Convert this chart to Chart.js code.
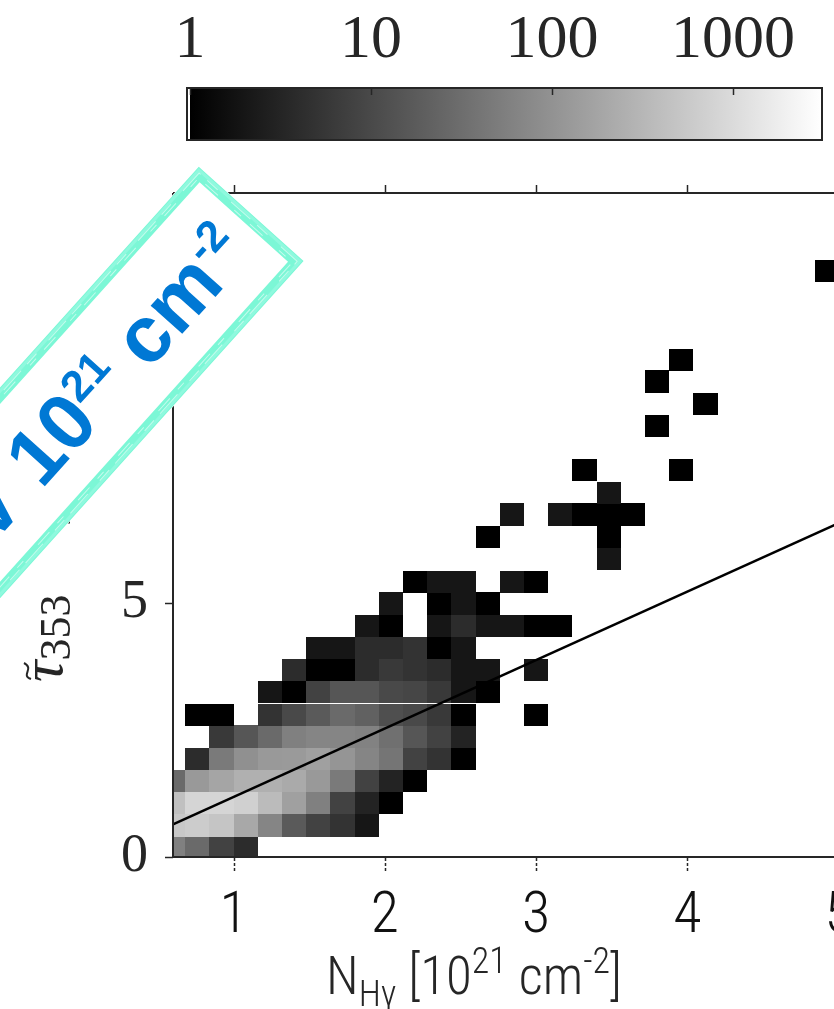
<!DOCTYPE html>
<html>
<head>
<meta charset="utf-8">
<script src="https://cdn.jsdelivr.net/npm/chart.js@4.4.1/dist/chart.umd.min.js"></script>
<style>
  html, body { margin: 0; padding: 0; background: #fff; width: 834px; height: 1009px; overflow: hidden; }
  #main { position: absolute; left: 0; top: 0; width: 900px; height: 1009px; }
  #cbar { position: absolute; left: 0; top: 0; width: 834px; height: 150px; }
</style>
</head>
<body>
<div id="main"><canvas id="hist"></canvas></div>
<div id="cbar"><canvas id="colorbar"></canvas></div>
<script>
// histogram bins (centres) and sizes
const nhCenters = [0.60, 0.76, 0.92, 1.08, 1.24, 1.40, 1.56, 1.72, 1.88, 2.04, 2.20, 2.36, 2.52, 2.68,
  2.84, 3.00, 3.16, 3.32, 3.48, 3.64, 3.80, 3.96, 4.12, 4.28, 4.44, 4.60, 4.76, 4.92];
const tauCenters = [0.18, 0.62, 1.06, 1.49, 1.93, 2.37, 2.80, 3.24, 3.68, 4.11, 4.55, 4.99, 5.42, 5.86,
  6.30, 6.74, 7.17, 7.61, 8.05, 8.48, 8.92, 9.36, 9.79, 10.23, 10.67, 11.10, 11.54];
const nhBinWidth = 0.16;
const tauBinHeight = 0.437;

// pixel counts, one row per tau bin (bottom first), one entry per N_H bin
const pixelCounts = [
  [56, 28, 8, 4],
  [546, 619, 497, 199, 66, 17, 8, 5, 2],
  [424, 822, 822, 703, 363, 155, 56, 8, 3, 1],
  [28, 124, 181, 256, 256, 212, 124, 47, 8, 3, 1],
  [0, 4, 47, 93, 124, 128, 155, 109, 66, 40, 8, 5, 1],
  [0, 0, 6, 15, 28, 56, 66, 66, 60, 34, 15, 8, 3],
  [0, 1, 1, 0, 5, 10, 17, 28, 21, 12, 10, 6, 1, 0, 0, 1],
  [0, 0, 0, 0, 2, 1, 8, 15, 15, 10, 9, 6, 2, 1],
  [0, 0, 0, 0, 0, 4, 1, 1, 4, 6, 5, 4, 2, 2, 0, 2],
  [0, 0, 0, 0, 0, 0, 2, 2, 4, 4, 5, 1, 2],
  [0, 0, 0, 0, 0, 0, 0, 0, 2, 1, 0, 2, 4, 2, 2, 1, 1],
  [0, 0, 0, 0, 0, 0, 0, 0, 0, 2, 0, 1, 2, 1],
  [0, 0, 0, 0, 0, 0, 0, 0, 0, 0, 1, 2, 2, 0, 2, 1],
  [0, 0, 0, 0, 0, 0, 0, 0, 0, 0, 0, 0, 0, 0, 0, 0, 0, 0, 2],
  [0, 0, 0, 0, 0, 0, 0, 0, 0, 0, 0, 0, 0, 1, 0, 0, 0, 0, 1],
  [0, 0, 0, 0, 0, 0, 0, 0, 0, 0, 0, 0, 0, 0, 2, 0, 2, 1, 1, 1],
  [0, 0, 0, 0, 0, 0, 0, 0, 0, 0, 0, 0, 0, 0, 0, 0, 0, 0, 2],
  [0, 0, 0, 0, 0, 0, 0, 0, 0, 0, 0, 0, 0, 0, 0, 0, 0, 1, 0, 0, 0, 1],
  [],
  [0, 0, 0, 0, 0, 0, 0, 0, 0, 0, 0, 0, 0, 0, 0, 0, 0, 0, 0, 0, 1],
  [0, 0, 0, 0, 0, 0, 0, 0, 0, 0, 0, 0, 0, 0, 0, 0, 0, 0, 0, 0, 0, 0, 1],
  [0, 0, 0, 0, 0, 0, 0, 0, 0, 0, 0, 0, 0, 0, 0, 0, 0, 0, 0, 0, 1],
  [0, 0, 0, 0, 0, 0, 0, 0, 0, 0, 0, 0, 0, 0, 0, 0, 0, 0, 0, 0, 0, 1],
  [],
  [],
  [],
  [0, 0, 0, 0, 0, 0, 0, 0, 0, 0, 0, 0, 0, 0, 0, 0, 0, 0, 0, 0, 0, 0, 0, 0, 0, 0, 0, 1]
];

// linear fit
const fitNH = [0.6, 5.405];
const fitTau = [0.64, 7.12];

// axes
const nhTicks = [1, 2, 3, 4, 5];
const tauTicks = [0, 5, 10];
const cbarMin = 1;
const cbarMax = 3100;
const cbarTicks = [1, 10, 100, 1000];

const AXIS = '#262626';
const SERIF = "'Liberation Serif', 'Times New Roman', serif";
const NARROW = "'Roboto Condensed', 'DejaVu Sans Condensed', sans-serif";
const SANS = "'Liberation Sans', Arial, sans-serif";

function grayFor(n) {
  const g = Math.max(0, Math.min(1, Math.log10(n) / Math.log10(cbarMax)));
  const v = Math.round(255 * g);
  return `rgb(${v},${v},${v})`;
}

function drawRich(ctx, parts, x, y) {
  parts.forEach(p => {
    ctx.font = p.font;
    ctx.fillText(p.t, x, y + (p.dy || 0));
    x += ctx.measureText(p.t).width;
  });
}

function richWidth(ctx, parts) {
  let w = 0;
  parts.forEach(p => { ctx.font = p.font; w += ctx.measureText(p.t).width; });
  return w;
}

const heatmapPlugin = {
  id: 'heatmap',
  beforeDatasetsDraw(chart) {
    const { ctx, chartArea: a, scales: { x, y } } = chart;
    ctx.save();
    ctx.beginPath();
    ctx.rect(a.left, a.top, a.right - a.left, a.bottom - a.top);
    ctx.clip();
    pixelCounts.forEach((row, j) => {
      row.forEach((n, i) => {
        if (!n) return;
        const x0 = Math.round(x.getPixelForValue(nhCenters[i] - nhBinWidth / 2));
        const x1 = Math.round(x.getPixelForValue(nhCenters[i] + nhBinWidth / 2));
        const y0 = Math.round(y.getPixelForValue(tauCenters[j] + tauBinHeight / 2));
        const y1 = Math.round(y.getPixelForValue(tauCenters[j] - tauBinHeight / 2));
        ctx.fillStyle = grayFor(n);
        ctx.fillRect(x0, y0, x1 - x0, y1 - y0);
      });
    });
    ctx.restore();
  }
};

const framePlugin = {
  id: 'frame',
  afterDraw(chart) {
    const { ctx, chartArea: a, scales: { x, y } } = chart;
    ctx.save();
    ctx.strokeStyle = AXIS;
    ctx.lineWidth = 2;
    ctx.beginPath();
    ctx.moveTo(a.left, a.top); ctx.lineTo(a.right, a.top);
    ctx.moveTo(a.left, a.top); ctx.lineTo(a.left, a.bottom);
    ctx.moveTo(a.left, a.bottom); ctx.lineTo(a.right, a.bottom);
    ctx.stroke();

    // ticks, pointing out
    ctx.lineWidth = 1.5;
    nhTicks.forEach(v => {
      const px = Math.round(x.getPixelForValue(v)) + 0.5;
      ctx.beginPath();
      ctx.moveTo(px, a.top); ctx.lineTo(px, a.top - 8);
      ctx.stroke();
      ctx.setLineDash([3, 2]);
      ctx.beginPath();
      ctx.moveTo(px, a.bottom + 1); ctx.lineTo(px, a.bottom + 14);
      ctx.stroke();
      ctx.setLineDash([]);
    });
    tauTicks.forEach(v => {
      const py = Math.round(y.getPixelForValue(v)) + 0.5;
      ctx.beginPath();
      ctx.moveTo(a.left, py); ctx.lineTo(a.left - 8, py);
      ctx.stroke();
    });

    // x title
    ctx.fillStyle = AXIS;
    ctx.textBaseline = 'alphabetic';
    ctx.textAlign = 'left';
    const xTitle = [
      { t: 'N', font: `300 53px ${NARROW}` },
      { t: 'Hγ', font: `300 36px ${NARROW}`, dy: 12 },
      { t: ' [10', font: `300 53px ${NARROW}` },
      { t: '21', font: `300 36px ${NARROW}`, dy: -21 },
      { t: ' cm', font: `300 53px ${NARROW}` },
      { t: '-2', font: `300 36px ${NARROW}`, dy: -21 },
      { t: ']', font: `300 53px ${NARROW}` }
    ];
    drawRich(ctx, xTitle, 474 - richWidth(ctx, xTitle) / 2, 994);

    // y title, rotated
    ctx.save();
    ctx.translate(62, 682);
    ctx.rotate(-Math.PI / 2);
    ctx.font = `italic 60px ${SERIF}`;
    ctx.fillText('τ', 0, 0);
    const tw = ctx.measureText('τ').width;
    ctx.lineWidth = 2;
    ctx.beginPath();
    ctx.moveTo(3, -31);
    ctx.bezierCurveTo(7, -42, 13, -27, 19, -38);
    ctx.stroke();
    ctx.font = `44px ${SERIF}`;
    ctx.fillText('353', tw, 8);
    drawRich(ctx, [
      { t: '[10', font: `60px ${SERIF}` },
      { t: '-6', font: `40px ${SERIF}`, dy: -22 },
      { t: ']', font: `60px ${SERIF}` }
    ], 154, 0);
    ctx.restore();

    drawNoteBox(ctx);
    ctx.restore();
  }
};

function drawNoteBox(ctx) {
  ctx.save();
  ctx.translate(251.5, 213.5);
  ctx.rotate(-48 * Math.PI / 180);
  ctx.fillStyle = '#fff';
  ctx.fillRect(-900, -71, 900, 142);

  // sketchy aquamarine frame
  ctx.strokeStyle = '#7cf7d6';
  ctx.lineWidth = 11;
  ctx.strokeRect(-900, -65, 894, 130);
  ctx.lineWidth = 3;
  ctx.strokeStyle = '#8ff9de';
  ctx.strokeRect(-900, -68, 897, 136);
  ctx.strokeStyle = 'rgba(255,255,255,0.55)';
  ctx.lineWidth = 1;
  ctx.setLineDash([26, 9, 14, 18]);
  ctx.strokeRect(-900, -66, 895, 132);
  ctx.setLineDash([17, 22, 9, 12]);
  ctx.strokeRect(-900, -63, 891, 126);
  ctx.setLineDash([]);

  ctx.fillStyle = '#0078d4';
  ctx.textAlign = 'left';
  ctx.textBaseline = 'alphabetic';
  const note = [
    { t: 'V 10', font: `bold 80px ${SANS}` },
    { t: '21', font: `bold 44px ${SANS}`, dy: -29 },
    { t: ' cm', font: `bold 80px ${SANS}` },
    { t: '-2', font: `bold 44px ${SANS}`, dy: -29 }
  ];
  drawRich(ctx, note, -31 - richWidth(ctx, note), 29);
  ctx.restore();
}

new Chart(document.getElementById('hist'), {
  type: 'scatter',
  data: {
    datasets: [{
      data: fitNH.map((v, i) => ({ x: v, y: fitTau[i] })),
      showLine: true,
      borderColor: '#000',
      borderWidth: 2.5,
      pointRadius: 0
    }]
  },
  options: {
    responsive: true,
    maintainAspectRatio: false,
    animation: false,
    layout: { padding: { top: 193, left: 0, right: 0, bottom: 0 } },
    plugins: { legend: { display: false }, tooltip: { enabled: false } },
    scales: {
      x: {
        type: 'linear',
        min: 0.6,
        max: 5.405,
        grid: { display: false, drawTicks: false },
        border: { display: false },
        afterBuildTicks: s => { s.ticks = nhTicks.map(v => ({ value: v })); },
        afterFit: s => { s.height = 152; },
        ticks: { padding: 26, autoSkip: false, maxRotation: 0, color: '#111', font: { family: NARROW, size: 58, weight: 300 } }
      },
      y: {
        type: 'linear',
        min: 0,
        max: 13.07,
        grid: { display: false, drawTicks: false },
        border: { display: false },
        afterBuildTicks: s => { s.ticks = tauTicks.map(v => ({ value: v })); },
        afterFit: s => { s.width = 173; },
        ticks: { padding: 25, color: AXIS, font: { family: SERIF, size: 54 } }
      }
    }
  },
  plugins: [heatmapPlugin, framePlugin]
});

const colorbarPlugin = {
  id: 'colorbar',
  beforeDraw(chart) {
    const { ctx, chartArea: a, scales: { x } } = chart;
    const x0 = x.getPixelForValue(cbarMin);
    const x1 = x.getPixelForValue(cbarMax);
    ctx.save();
    const grad = ctx.createLinearGradient(x0, 0, x1, 0);
    grad.addColorStop(0, '#000');
    grad.addColorStop(1, '#fff');
    ctx.fillStyle = grad;
    ctx.fillRect(x0, a.top, x1 - x0, a.bottom - a.top);
    ctx.strokeStyle = AXIS;
    ctx.lineWidth = 2;
    ctx.strokeRect(x0 - 3, a.top, x1 - x0 + 3, a.bottom - a.top);
    ctx.lineWidth = 1.5;
    cbarTicks.forEach(v => {
      const px = Math.round(x.getPixelForValue(v)) + 0.5;
      ctx.beginPath();
      ctx.moveTo(px, a.top); ctx.lineTo(px, a.top + 7);
      ctx.stroke();
    });
    ctx.restore();
  }
};

new Chart(document.getElementById('colorbar'), {
  type: 'scatter',
  data: { datasets: [] },
  options: {
    responsive: true,
    maintainAspectRatio: false,
    animation: false,
    layout: { padding: { top: 0, left: 190, right: 12, bottom: 10 } },
    plugins: { legend: { display: false }, tooltip: { enabled: false } },
    scales: {
      x: {
        type: 'logarithmic',
        position: 'top',
        min: cbarMin,
        max: cbarMax,
        grid: { display: false, drawTicks: false },
        border: { display: false },
        afterBuildTicks: s => { s.ticks = cbarTicks.map(v => ({ value: v })); },
        afterFit: s => { s.height = 88; },
        ticks: { padding: 10, autoSkip: false, maxRotation: 0, color: AXIS, font: { family: SERIF, size: 62 }, callback: v => String(v) }
      },
      y: { display: false, min: 0, max: 1 }
    }
  },
  plugins: [colorbarPlugin]
});
</script>
</body>
</html>
